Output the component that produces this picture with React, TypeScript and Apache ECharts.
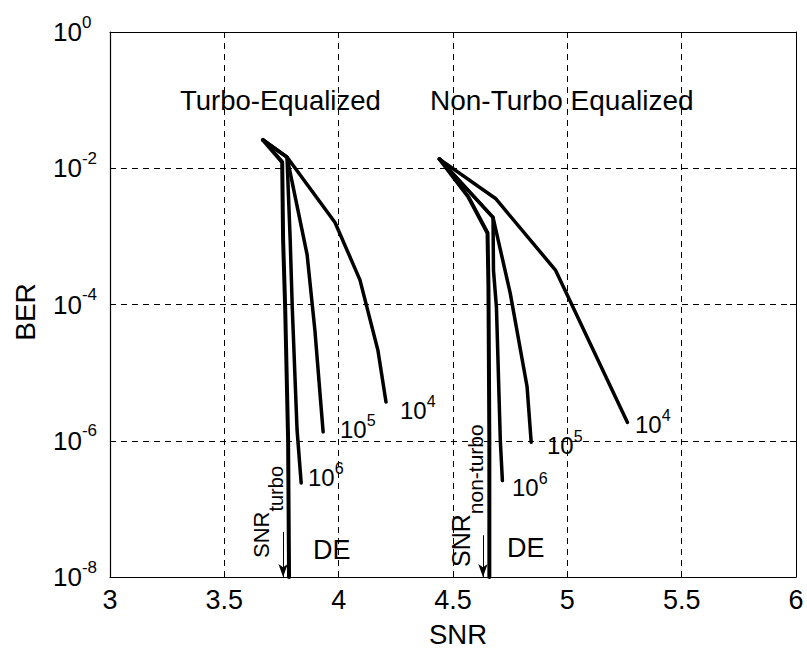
import React, { useEffect, useRef } from "react";
import * as echarts from "echarts";

// ---- axis ticks ----
const xTicks = [3, 3.5, 4, 4.5, 5, 5.5, 6];
const yExponents = [-8, -6, -4, -2, 0];

// ---- Turbo-equalized curves (SNR, BER) ----
const turbo1e4Snr = [3.669, 3.774, 3.984, 4.093, 4.172, 4.207];
const turbo1e4Ber = [2.6e-2, 1.46e-2, 1.6e-3, 2.3e-4, 2.1e-5, 3.7e-6];
const turbo1e5Snr = [3.669, 3.774, 3.862, 3.896, 3.932];
const turbo1e5Ber = [2.6e-2, 1.46e-2, 5.4e-4, 4.2e-5, 1.35e-6];
const turbo1e6Snr = [3.669, 3.774, 3.788, 3.797, 3.818, 3.836];
const turbo1e6Ber = [2.6e-2, 1.46e-2, 8.9e-4, 9.1e-5, 1.45e-6, 2.4e-7];
const turboDeSnr = [3.669, 3.753, 3.757, 3.766, 3.779, 3.783];
const turboDeBer = [2.6e-2, 1.23e-2, 8.9e-4, 9.1e-5, 1.0e-6, 1e-8];

// ---- Non-turbo equalized curves (SNR, BER) ----
const nonTurbo1e4Snr = [4.441, 4.686, 4.948, 5.263];
const nonTurbo1e4Ber = [1.36e-2, 3.6e-3, 3.2e-4, 1.86e-6];
const nonTurbo1e5Snr = [4.441, 4.675, 4.75, 4.824, 4.842];
const nonTurbo1e5Ber = [1.36e-2, 1.9e-3, 1.48e-4, 6.2e-6, 9.5e-7];
const nonTurbo1e6Snr = [4.441, 4.675, 4.677, 4.69, 4.707, 4.716];
const nonTurbo1e6Ber = [1.36e-2, 1.9e-3, 3.2e-4, 9.1e-5, 1.0e-6, 2.6e-7];
const nonTurboDeSnr = [4.441, 4.567, 4.651, 4.655, 4.659, 4.659];
const nonTurboDeBer = [1.36e-2, 3.8e-3, 1.12e-3, 1.9e-4, 1.0e-6, 1e-8];

// ---- SNR threshold arrows (SNR, BER at arrow tail, BER at tip) ----
const arrowSnr = [3.757, 4.631];
const arrowTailBer = [4.6e-8, 4.1e-8];
const arrowTipBer = [1e-8, 1e-8];

const FONT = "'Liberation Sans', Arial, Helvetica, sans-serif";

const pairs = (snr: number[], ber: number[]) =>
  snr.map((s, i) => [s, Math.log10(ber[i])]);

const lineSeries = (name: string, snr: number[], ber: number[], width: number, extra: any = {}) => ({
  type: "line",
  name,
  data: pairs(snr, ber),
  symbol: "none",
  silent: true,
  z: 5,
  lineStyle: { color: "#000", width, join: "round", cap: "round" },
  ...extra,
});

const supRich = (big: number, small: number, pad: number) => ({
  b: { fontSize: big, fontFamily: FONT, color: "#000", fill: "#000" },
  s: {
    fontSize: small,
    fontFamily: FONT,
    color: "#000",
    fill: "#000",
    verticalAlign: "bottom",
    padding: [0, 0, pad, 0],
  },
});

const subRich = (big: number, small: number, pad: number) => ({
  b: { fontSize: big, fontFamily: FONT, fill: "#000" },
  s: {
    fontSize: small,
    fontFamily: FONT,
    fill: "#000",
    verticalAlign: "bottom",
    padding: [pad, 0, 0, 0],
  },
});

const plainText = (text: string, x: number, y: number, size: number, align = "left", rotation = 0) => ({
  type: "text",
  x,
  y,
  rotation,
  silent: true,
  z: 10,
  style: {
    legacy: false,
    text,
    fontSize: size,
    fontFamily: FONT,
    fill: "#000",
    align,
    verticalAlign: "middle",
  },
});

const powerText = (exp: string, x: number, y: number) => ({
  type: "text",
  x,
  y,
  silent: true,
  z: 10,
  style: {
    legacy: false,
    text: `{b|10}{s|${exp}}`,
    fontSize: 24,
    fontFamily: FONT,
    fill: "#000",
    align: "left",
    verticalAlign: "middle",
    rich: supRich(24, 16, 18),
  },
});

const snrSubText = (sub: string, x: number, y: number, big: number, small: number, pad: number) => ({
  type: "text",
  x,
  y,
  rotation: Math.PI / 2,
  silent: true,
  z: 10,
  style: {
    legacy: false,
    text: `{b|SNR}{s|${sub}}`,
    fontSize: big,
    fontFamily: FONT,
    fill: "#000",
    align: "left",
    verticalAlign: "middle",
    rich: subRich(big, small, pad),
  },
});

const dashed = { type: [6, 5], color: "#000", width: 1 };

const option: any = {
  animation: false,
  backgroundColor: "#fff",
  grid: { left: 110, top: 32, right: 11, bottom: 73, outerBoundsMode: "none", containLabel: false },
  xAxis: [
    {
      type: "value",
      min: xTicks[0],
      max: xTicks[xTicks.length - 1],
      interval: 0.5,
      axisLine: { show: true, onZero: false, lineStyle: { color: "#000", width: 1.2 } },
      axisTick: { show: true, inside: true, length: 6, lineStyle: { color: "#000" } },
      axisLabel: {
        margin: 9,
        fontSize: 27,
        fontFamily: FONT,
        color: "#000",
        showMinLabel: true,
        showMaxLabel: true,
        formatter: (v: number) => String(v),
      },
      splitLine: { show: true, lineStyle: dashed },
    },
    {
      type: "value",
      position: "top",
      min: xTicks[0],
      max: xTicks[xTicks.length - 1],
      interval: 0.5,
      axisLine: { show: true, onZero: false, lineStyle: { color: "#000", width: 1 } },
      axisTick: { show: true, inside: true, length: 6, lineStyle: { color: "#000" } },
      axisLabel: { show: false },
      splitLine: { show: false },
    },
  ],
  yAxis: [
    {
      type: "value",
      min: yExponents[0],
      max: yExponents[yExponents.length - 1],
      interval: 2,
      axisLine: { show: true, onZero: false, lineStyle: { color: "#000", width: 1.2 } },
      axisTick: { show: true, inside: true, length: 6, lineStyle: { color: "#000" } },
      axisLabel: {
        align: "left",
        margin: 57,
        fontSize: 26,
        fontFamily: FONT,
        color: "#000",
        showMinLabel: true,
        showMaxLabel: true,
        formatter: (v: number) => `{b|10}{s|${v}}`,
        rich: supRich(26, 17, 20),
      },
      splitLine: { show: true, lineStyle: dashed },
    },
    {
      type: "value",
      position: "right",
      min: yExponents[0],
      max: yExponents[yExponents.length - 1],
      interval: 2,
      axisLine: { show: true, onZero: false, lineStyle: { color: "#000", width: 1 } },
      axisTick: { show: true, inside: true, length: 6, lineStyle: { color: "#000" } },
      axisLabel: { show: false },
      splitLine: { show: false },
    },
  ],
  series: [
    lineSeries("Turbo 1e4", turbo1e4Snr, turbo1e4Ber, 3.5),
    lineSeries("Turbo 1e5", turbo1e5Snr, turbo1e5Ber, 3.5),
    lineSeries("Turbo 1e6", turbo1e6Snr, turbo1e6Ber, 3.5),
    lineSeries("Turbo DE", turboDeSnr, turboDeBer, 4, {
      markLine: {
        silent: true,
        symbol: ["none", "arrow"],
        symbolSize: [7, 13],
        label: { show: false },
        lineStyle: { color: "#000", width: 1, type: "solid" },
        data: arrowSnr.map((s, i) => [
          { coord: [s, Math.log10(arrowTailBer[i])] },
          { coord: [s, Math.log10(arrowTipBer[i])] },
        ]),
      },
    }),
    lineSeries("Non-turbo 1e4", nonTurbo1e4Snr, nonTurbo1e4Ber, 3.5),
    lineSeries("Non-turbo 1e5", nonTurbo1e5Snr, nonTurbo1e5Ber, 3.5),
    lineSeries("Non-turbo 1e6", nonTurbo1e6Snr, nonTurbo1e6Ber, 3.5),
    lineSeries("Non-turbo DE", nonTurboDeSnr, nonTurboDeBer, 4),
  ],
  graphic: [
    plainText("Turbo-Equalized", 180, 100, 27.5),
    plainText("Non-Turbo Equalized", 430, 100, 28),
    powerText("4", 400, 410),
    powerText("5", 340, 429),
    powerText("6", 308, 477),
    powerText("4", 635, 424),
    powerText("5", 547, 445),
    powerText("6", 512, 487),
    plainText("DE", 313, 550, 27),
    plainText("DE", 507, 548, 27),
    snrSubText("turbo", 261, 558, 22, 20, 30),
    snrSubText("non-turbo", 461, 567, 25, 21, 28),
    plainText("SNR", 458, 634, 27.5, "center"),
    plainText("BER", 25, 312, 28, "center", Math.PI / 2),
  ],
};

export default function App() {
  const ref = useRef<HTMLDivElement>(null);
  useEffect(() => {
    document.body.style.margin = "0";
    const chart = echarts.init(ref.current as HTMLDivElement, null, { renderer: "svg" });
    chart.setOption(option);
    return () => chart.dispose();
  }, []);
  return <div ref={ref} style={{ width: 807, height: 650, background: "#fff" }} />;
}
